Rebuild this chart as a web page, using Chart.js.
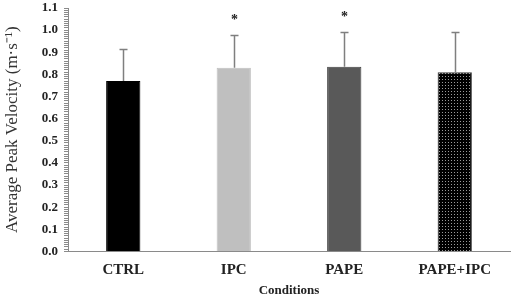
<!DOCTYPE html>
<html>
<head>
<meta charset="utf-8">
<script src="https://cdn.jsdelivr.net/npm/chart.js@4"></script>
<style>
  html, body { margin: 0; padding: 0; background: #fff; }
  #wrap { width: 512px; height: 298px; position: relative; }
</style>
</head>
<body>
<div id="wrap"><canvas id="apv"></canvas></div>
<script>
/* Average Peak Velocity by condition, mean + SD (upper whisker only) */

const conditions = ['CTRL', 'IPC', 'PAPE', 'PAPE+IPC'];
const meanVelocity = [0.77, 0.83, 0.835, 0.81];
const sdVelocity = [0.145, 0.147, 0.155, 0.18];
const significance = ['', '*', '*', ''];

(function () {
  'use strict';

  const serif = '"Liberation Serif", "Times New Roman", serif';

  // dotted fill for PAPE+IPC
  function dotPattern() {
    const c = document.createElement('canvas');
    c.width = 3; c.height = 3;
    const g = c.getContext('2d');
    g.fillStyle = '#000';
    g.fillRect(0, 0, 3, 3);
    g.fillStyle = '#9a9a9a';
    g.fillRect(1, 1, 1, 1);
    return g.createPattern(c, 'repeat');
  }

  const errorBars = {
    id: 'errorBars',
    afterDatasetsDraw: function (chart) {
      const ctx = chart.ctx;
      const y = chart.scales.y;
      const meta = chart.getDatasetMeta(0);
      ctx.save();
      meta.data.forEach(function (bar, i) {
        const x = Math.round(bar.x) + 0.5;
        const y0 = y.getPixelForValue(meanVelocity[i]);
        const y1 = Math.round(y.getPixelForValue(meanVelocity[i] + sdVelocity[i])) + 0.5;
        ctx.strokeStyle = '#7f7f7f';
        ctx.lineWidth = 1.5;
        ctx.beginPath();
        ctx.moveTo(x, y0);
        ctx.lineTo(x, y1);
        ctx.moveTo(x - 4, y1);
        ctx.lineTo(x + 4, y1);
        ctx.stroke();
        if (significance[i]) {
          ctx.fillStyle = '#222';
          ctx.font = 'bold 14px ' + serif;
          ctx.textAlign = 'center';
          ctx.textBaseline = 'middle';
          ctx.fillText(significance[i], x, y1 - 15);
        }
      });
      ctx.restore();
    }
  };

  new Chart(document.getElementById('apv'), {
    type: 'bar',
    data: {
      labels: conditions,
      datasets: [{
        data: meanVelocity,
        backgroundColor: ['#000000', '#bfbfbf', '#595959', dotPattern()],
        borderColor: ['#000000', '#bfbfbf', '#3f3f3f', '#3a3a3a'],
        borderWidth: 1,
        categoryPercentage: 1,
        barPercentage: 0.31
      }]
    },
    options: {
      responsive: true,
      maintainAspectRatio: false,
      animation: false,
      layout: { padding: { top: 8, right: 2, left: 0, bottom: 0 } },
      plugins: {
        legend: { display: false },
        tooltip: { enabled: false }
      },
      scales: {
        x: {
          grid: { display: false },
          border: { color: '#8a8a8a', width: 1 },
          ticks: {
            color: '#222',
            font: { family: serif, size: 15, weight: 'bold' },
            padding: 2
          },
          title: {
            display: true,
            text: 'Conditions',
            color: '#222',
            font: { family: serif, size: 13, weight: 'bold' },
            padding: { top: 1, bottom: 0 }
          }
        },
        y: {
          min: 0,
          max: 1.1,
          afterFit: function (s) { s.width = 68; s.paddingTop = 0; },
          grid: { drawOnChartArea: false, drawTicks: true, tickLength: 4, color: '#8a8a8a' },
          border: { color: '#8a8a8a', width: 1 },
          ticks: {
            stepSize: 0.01,
            autoSkip: false,
            color: '#222',
            padding: 6,
            font: { family: serif, size: 13, weight: 'bold' },
            callback: function (v) {
              const k = Math.round(v * 100);
              return k % 10 === 0 ? (k / 100).toFixed(1) : '';
            }
          },
          title: {
            display: true,
            text: 'Average Peak Velocity (m\u00b7s\u207b\u00b9)',
            color: '#333',
            font: { family: serif, size: 17 },
            padding: { top: 2, bottom: 0 }
          }
        }
      }
    },
    plugins: [errorBars]
  });
})();
</script>
</body>
</html>
